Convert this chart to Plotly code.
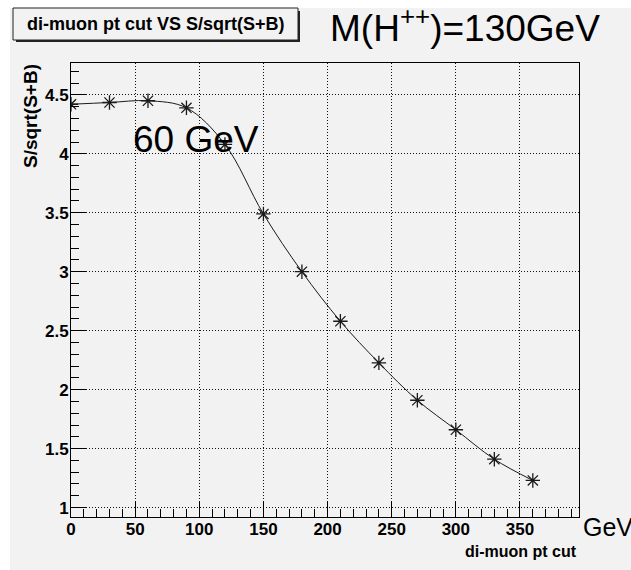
import plotly.graph_objects as go

# di-muon pt cut scan for M(H++) = 130 GeV
pt_cut = [0, 30, 60, 90, 120, 150, 180, 210, 240, 270, 300, 330, 360]
significance = [4.42, 4.435, 4.45, 4.39, 4.08, 3.49, 3.0, 2.58, 2.227, 1.91, 1.66, 1.41, 1.23]

x_range = [0, 396]
y_range = [0.92, 4.77]

W, H = 631, 570
ML, MR, MT, MB = 71, 52, 63, 53
PW, PH = W - ML - MR, H - MT - MB

BG = "#f2f2f2"
SANS = "Liberation Sans, Arial, sans-serif"


def px(x):
    return (x - ML) / PW


def py(y):
    return (H - MB - y) / PH


fig = go.Figure()
fig.add_trace(go.Scatter(
    x=pt_cut, y=significance,
    mode="lines+markers",
    line=dict(shape="spline", smoothing=1.0, color="#1a1a1a", width=1),
    marker=dict(symbol="asterisk-open", size=12, line=dict(color="black", width=1.3)),
    showlegend=False,
))

axis_common = dict(
    showline=True, linecolor="black", linewidth=1, mirror=True,
    ticks="inside", ticklen=15, tickwidth=1, tickcolor="black",
    showgrid=True, gridcolor="#111111", gridwidth=1, griddash="1px,2px",
    zeroline=False,
    tickfont=dict(family=SANS, size=17, color="black", weight="bold"),
)

fig.update_xaxes(
    range=x_range, tick0=0, dtick=50, ticklabelstandoff=-3,
    minor=dict(ticks="inside", ticklen=8, dtick=10, tickcolor="black", showgrid=False),
    **axis_common,
)
fig.update_yaxes(
    range=y_range, tick0=0, dtick=0.5, ticklabelstandoff=-2,
    minor=dict(ticks="inside", ticklen=8, dtick=0.1, tickcolor="black", showgrid=False),
    **axis_common,
)

shapes = [
    # white border of the canvas along the top and left edges
    dict(type="rect", xref="paper", yref="paper", x0=px(-5), x1=px(W + 5),
         y0=py(8), y1=py(-5), fillcolor="white", line=dict(width=0)),
    dict(type="rect", xref="paper", yref="paper", x0=px(-5), x1=px(10),
         y0=py(-5), y1=py(H + 5), fillcolor="white", line=dict(width=0)),
    # title box shadow and box
    dict(type="rect", xref="paper", yref="paper", x0=px(16), x1=px(300),
         y0=py(11), y1=py(42), fillcolor="#222222", line=dict(width=0)),
    dict(type="rect", xref="paper", yref="paper", x0=px(13), x1=px(298),
         y0=py(8), y1=py(40), fillcolor=BG, line=dict(color="#222222", width=1)),
]

annotations = [
    dict(text="di-muon pt cut VS S/sqrt(S+B)", xref="paper", yref="paper",
         x=px(155.5), y=py(24), xanchor="center", yanchor="middle", showarrow=False,
         font=dict(family=SANS, size=18, color="black", weight="bold")),
    dict(text="M(H<sup>++</sup>)=130GeV", xref="paper", yref="paper",
         x=px(328), y=py(26), xanchor="left", yanchor="middle", showarrow=False,
         font=dict(family=SANS, size=37, color="black")),
    dict(text="60 GeV", xref="paper", yref="paper",
         x=px(131), y=py(139), xanchor="left", yanchor="middle", showarrow=False,
         font=dict(family=SANS, size=37, color="black")),
    dict(text="GeV", xref="paper", yref="paper",
         x=px(581), y=py(527), xanchor="left", yanchor="middle", showarrow=False,
         font=dict(family=SANS, size=25, color="black")),
    dict(text="di-muon pt cut", xref="paper", yref="paper",
         x=1.0, y=py(551), xanchor="right", yanchor="middle", showarrow=False,
         font=dict(family=SANS, size=16, color="black", weight="bold")),
    dict(text="S/sqrt(S+B)", xref="paper", yref="paper", textangle=-90,
         x=px(30), y=py(62), xanchor="center", yanchor="top", showarrow=False,
         font=dict(family=SANS, size=19, color="black", weight="bold")),
]

fig.update_layout(
    width=W, height=H,
    margin=dict(l=ML, r=MR, t=MT, b=MB, pad=0),
    paper_bgcolor=BG, plot_bgcolor=BG,
    shapes=shapes, annotations=annotations,
)

fig.write_html("out.html")
